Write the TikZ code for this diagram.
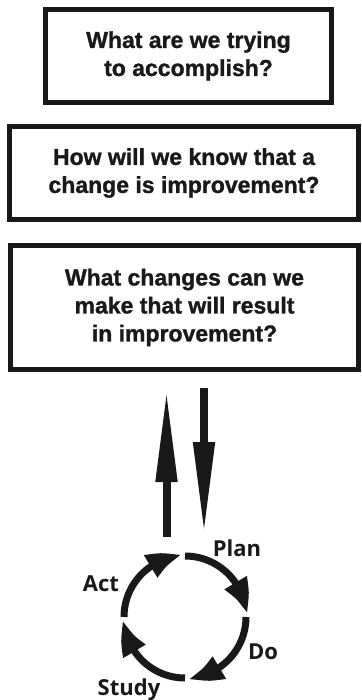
\documentclass[tikz,border=0pt]{standalone}
\usepackage{fontspec}
\setmainfont{Liberation Sans}[BoldFeatures={FakeBold=1.2}]
\newfontfamily\labelfont{Open Sans}
\usetikzlibrary{arrows.meta,bending}
\begin{document}
\begin{tikzpicture}[x=1pt,y=-1pt,
  qbox/.style={draw=black!90, line width=5pt, inner sep=0pt, align=center,
    font=\fontsize{23}{28}\selectfont\bfseries, text=black!90},
  bigarrow/.style={line width=8pt, draw=black!90, -{Triangle[length=93pt,width=20pt]}},
  cyc/.style={line width=7pt, draw=black!90, -{Triangle[length=34pt,width=24pt,bend]}},
  cyclabel/.style={font=\labelfont\fontsize{22}{26}\selectfont\bfseries, text=black!90, inner sep=0pt}
]
\useasboundingbox (0,0) rectangle (361,700);
\fill[white] (0,0) rectangle (361,700);

\node[qbox, minimum width=286pt, minimum height=93pt] (aim) at (188.5,56)
  {What are we trying\\to accomplish?};
\node[qbox, minimum width=349pt, minimum height=93pt] (measure) at (184,173)
  {How will we know that a\\change is improvement?};
\node[qbox, minimum width=348pt, minimum height=124pt] (change) at (184.5,307.5)
  {What changes can we\\make that will result\\in improvement?};

\coordinate (upfoot) at (166.5,537);
\coordinate (uptip) at (166.5,389);
\coordinate (downtop) at (204,388);
\coordinate (downtip) at (204,535);
\draw[bigarrow] (upfoot) -- (uptip);
\draw[bigarrow] (downtop) -- (downtip);

% y axis points down, so angles run clockwise on the page
\coordinate (c) at (185,617);
\draw[cyc] (c) ++(180:61) arc[start angle=180, end angle=267, radius=61];
\draw[cyc] (c) ++(270:61) arc[start angle=270, end angle=357, radius=61];
\draw[cyc] (c) ++(0:61) arc[start angle=0, end angle=87, radius=61];
\draw[cyc] (c) ++(90:61) arc[start angle=90, end angle=177, radius=61];

\node[cyclabel] (plan) at (237,548) {Plan};
\node[cyclabel] (do) at (263,652) {Do};
\node[cyclabel] (act) at (101,584) {Act};
\node[cyclabel] (study) at (129,690) {Study};
\end{tikzpicture}
\end{document}
